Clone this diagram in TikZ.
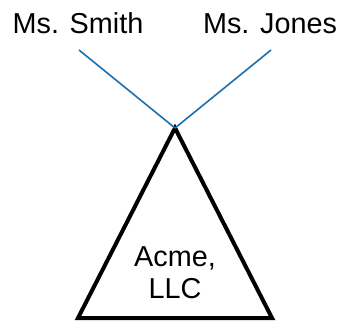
\documentclass[tikz,border=0pt]{standalone}
\usepackage{fontspec}
\setmainfont{Liberation Sans}
\usepackage{tikz}
\usetikzlibrary{positioning, calc}
\definecolor{ownerblue}{RGB}{28,110,172}
\def\namesize{\fontsize{21.6}{24.75}\selectfont}
\def\apexx{175}
\def\apexy{128}

\begin{document}
\begin{tikzpicture}[x=0.75pt, y=-0.75pt]
  \useasboundingbox (0, 0) rectangle (341, 322);

  % owners
  \node[anchor=base, inner sep=0] (smith) at (78, 33) {\namesize Ms. Smith};
  \node[anchor=base, inner sep=0] (jones) at (270, 33) {\namesize Ms. Jones};
  \coordinate (smithend) at (79, 50);
  \coordinate (jonesend) at (271, 50);

  % company
  \coordinate (apex) at (\apexx, \apexy);
  \coordinate (baseL) at (78, 318);
  \coordinate (baseR) at (272, 318);
  \draw[line width=3pt, line join=miter] (apex) -- (baseR) -- (baseL) -- cycle;
  \node[align=center, inner sep=0, font=\namesize] (acme) at (175, 273) {Acme,\\[-1pt]LLC};

  \draw[ownerblue, line width=1.2pt] (smithend) -- (apex);
  \draw[ownerblue, line width=1.2pt] (jonesend) -- (apex);
\end{tikzpicture}
\end{document}
